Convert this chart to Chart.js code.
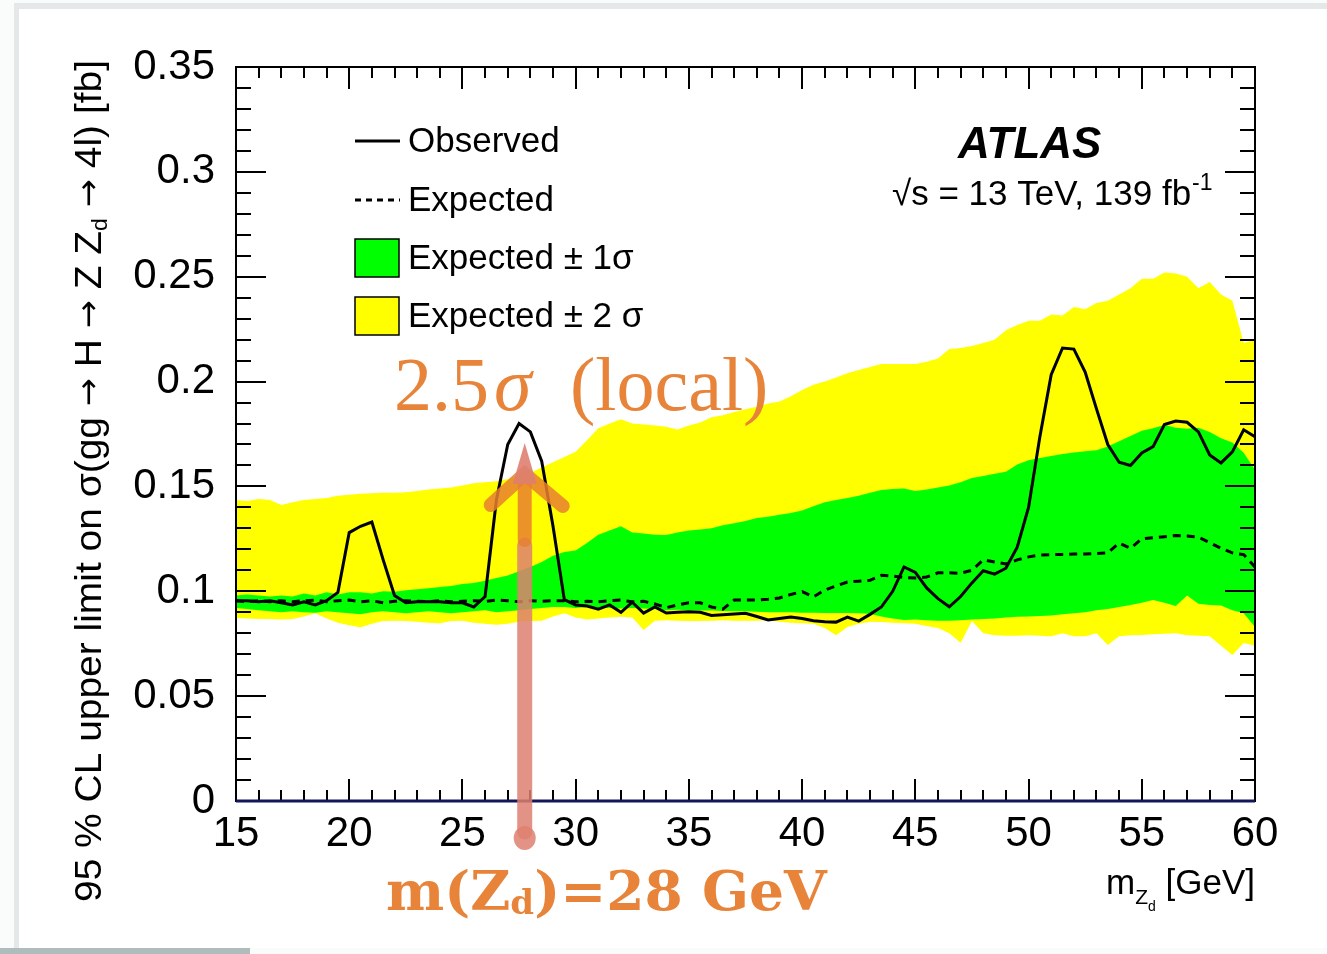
<!DOCTYPE html>
<html>
<head>
<meta charset="utf-8">
<script src="https://cdn.jsdelivr.net/npm/chart.js@4.4.0/dist/chart.umd.min.js"></script>
<style>
  html, body { margin: 0; padding: 0; background: #fff; overflow: hidden; }
  canvas { display: block; }
</style>
</head>
<body>
<canvas id="limitChart" width="1327" height="954"></canvas>
<script>
// Z_d mass points (GeV), 0.5 GeV steps
const massGeV = [];
for (let i = 0; i <= 90; i++) massGeV.push(15 + i * 0.5);

const observed = [
  0.0955, 0.0955, 0.0950, 0.0955, 0.0945, 0.0935, 0.0950, 0.0935, 0.0955, 0.0995,
  0.1280, 0.1310, 0.1330, 0.1150, 0.0980, 0.0945, 0.0950, 0.0950, 0.0950, 0.0945,
  0.0945, 0.0925, 0.0975, 0.1435, 0.1700, 0.1800, 0.1760, 0.1620, 0.1310, 0.0960,
  0.0935, 0.0930, 0.0915, 0.0935, 0.0900, 0.0948, 0.0896, 0.0925, 0.0896, 0.0900,
  0.0902, 0.0900, 0.0885, 0.0888, 0.0892, 0.0895, 0.0880, 0.0863, 0.0870, 0.0877,
  0.0870, 0.0860, 0.0855, 0.0853, 0.0877, 0.0858, 0.0890, 0.0925, 0.1000, 0.1116,
  0.1090, 0.1016, 0.0965, 0.0926, 0.0975, 0.1040, 0.1098, 0.1082, 0.1110, 0.1210,
  0.1400, 0.1737, 0.2033, 0.2160, 0.2155, 0.2045, 0.1870, 0.1700, 0.1615, 0.1600,
  0.1660, 0.1690, 0.1795, 0.1812, 0.1806, 0.1760, 0.1650, 0.1612, 0.1665, 0.1770,
  0.1737
];

const expected = [
  0.0955, 0.0950, 0.0955, 0.0950, 0.0955, 0.0950, 0.0955, 0.0958, 0.0950, 0.0955,
  0.0958, 0.0950, 0.0955, 0.0945, 0.0952, 0.0955, 0.0953, 0.0950, 0.0955, 0.0950,
  0.0952, 0.0955, 0.0952, 0.0958, 0.0955, 0.0950, 0.0955, 0.0952, 0.0955, 0.0955,
  0.0950, 0.0952, 0.0950, 0.0955, 0.0958, 0.0950, 0.0952, 0.0940, 0.0922, 0.0935,
  0.0945, 0.0945, 0.0925, 0.0915, 0.0958, 0.0958, 0.0958, 0.0962, 0.0968, 0.0985,
  0.0998, 0.0973, 0.1006, 0.1025, 0.1044, 0.1048, 0.1052, 0.1076, 0.1072, 0.1066,
  0.1063, 0.1068, 0.1088, 0.1088, 0.1086, 0.1100, 0.1150, 0.1140, 0.1130, 0.1150,
  0.1164, 0.1173, 0.1175, 0.1176, 0.1178, 0.1178, 0.1180, 0.1183, 0.1230, 0.1205,
  0.1250, 0.1255, 0.1260, 0.1266, 0.1264, 0.1258, 0.1232, 0.1205, 0.1183, 0.1175,
  0.1116
];

// expected +/- 1 sigma
const band1Hi = [
  0.0980, 0.0985, 0.0980, 0.0975, 0.0980, 0.0975, 0.0990, 0.0980, 0.0995, 0.0985,
  0.0995, 0.0995, 0.0990, 0.1000, 0.0998, 0.1005, 0.1010, 0.1015, 0.1020, 0.1025,
  0.1035, 0.1040, 0.1050, 0.1063, 0.1075, 0.1095, 0.1116, 0.1140, 0.1170, 0.1187,
  0.1195, 0.1230, 0.1270, 0.1290, 0.1310, 0.1280, 0.1275, 0.1270, 0.1268, 0.1280,
  0.1290, 0.1295, 0.1300, 0.1315, 0.1325, 0.1335, 0.1350, 0.1355, 0.1365, 0.1373,
  0.1385, 0.1405, 0.1425, 0.1435, 0.1445, 0.1455, 0.1470, 0.1483, 0.1488, 0.1490,
  0.1478, 0.1485, 0.1495, 0.1505, 0.1520, 0.1540, 0.1550, 0.1560, 0.1570, 0.1605,
  0.1625, 0.1635, 0.1645, 0.1655, 0.1662, 0.1668, 0.1672, 0.1690, 0.1715, 0.1740,
  0.1765, 0.1778, 0.1793, 0.1780, 0.1775, 0.1780, 0.1760, 0.1730, 0.1710, 0.1660,
  0.1580
];
const band1Lo = [
  0.0920, 0.0915, 0.0910, 0.0905, 0.0900, 0.0905, 0.0900, 0.0898, 0.0905, 0.0900,
  0.0895, 0.0890, 0.0900, 0.0905, 0.0900, 0.0895, 0.0900, 0.0905, 0.0900, 0.0895,
  0.0900, 0.0905, 0.0910, 0.0900, 0.0905, 0.0910, 0.0915, 0.0920, 0.0925, 0.0925,
  0.0920, 0.0925, 0.0920, 0.0920, 0.0918, 0.0920, 0.0918, 0.0915, 0.0910, 0.0912,
  0.0910, 0.0908, 0.0908, 0.0906, 0.0905, 0.0905, 0.0902, 0.0900, 0.0900, 0.0900,
  0.0898, 0.0898, 0.0897, 0.0896, 0.0896, 0.0895, 0.0893, 0.0880, 0.0870, 0.0863,
  0.0865, 0.0862, 0.0860, 0.0860, 0.0862, 0.0865, 0.0868, 0.0870, 0.0875, 0.0878,
  0.0880, 0.0882, 0.0885, 0.0890, 0.0895, 0.0900, 0.0910, 0.0915, 0.0925, 0.0935,
  0.0945, 0.0958, 0.0945, 0.0930, 0.0980, 0.0940, 0.0935, 0.0932, 0.0910, 0.0895,
  0.0830
];

// expected +/- 2 sigma
const band2Hi = [
  0.1435, 0.1430, 0.1440, 0.1435, 0.1412, 0.1425, 0.1435, 0.1440, 0.1445, 0.1455,
  0.1460, 0.1465, 0.1468, 0.1470, 0.1470, 0.1472, 0.1478, 0.1485, 0.1490, 0.1495,
  0.1505, 0.1515, 0.1520, 0.1525, 0.1535, 0.1550, 0.1565, 0.1590, 0.1615, 0.1640,
  0.1665, 0.1720, 0.1778, 0.1800, 0.1820, 0.1800, 0.1795, 0.1790, 0.1785, 0.1772,
  0.1790, 0.1805, 0.1830, 0.1840, 0.1855, 0.1868, 0.1880, 0.1895, 0.1905, 0.1930,
  0.1960, 0.1985, 0.2000, 0.2020, 0.2040, 0.2055, 0.2070, 0.2084, 0.2084, 0.2084,
  0.2084, 0.2095, 0.2110, 0.2155, 0.2160, 0.2170, 0.2184, 0.2200, 0.2245, 0.2270,
  0.2290, 0.2290, 0.2320, 0.2315, 0.2355, 0.2345, 0.2375, 0.2385, 0.2415, 0.2445,
  0.2490, 0.2490, 0.2520, 0.2515, 0.2500, 0.2445, 0.2475, 0.2415, 0.2385, 0.2184,
  0.2200
];
const band2Lo = [
  0.0873, 0.0870, 0.0868, 0.0868, 0.0865, 0.0868, 0.0880, 0.0895, 0.0870, 0.0850,
  0.0838, 0.0828, 0.0845, 0.0858, 0.0860, 0.0858, 0.0855, 0.0850, 0.0848, 0.0858,
  0.0860, 0.0850, 0.0845, 0.0840, 0.0845, 0.0855, 0.0858, 0.0860, 0.0880, 0.0895,
  0.0875, 0.0865, 0.0870, 0.0875, 0.0878, 0.0875, 0.0815, 0.0860, 0.0862, 0.0860,
  0.0858, 0.0858, 0.0860, 0.0862, 0.0860, 0.0860, 0.0860, 0.0862, 0.0855, 0.0850,
  0.0848, 0.0845, 0.0825, 0.0790, 0.0830, 0.0845, 0.0855, 0.0854, 0.0850, 0.0848,
  0.0845, 0.0835, 0.0825, 0.0800, 0.0755, 0.0858, 0.0800, 0.0790, 0.0788, 0.0788,
  0.0790, 0.0788, 0.0785, 0.0800, 0.0785, 0.0785, 0.0800, 0.0744, 0.0785, 0.0790,
  0.0792, 0.0795, 0.0798, 0.0800, 0.0790, 0.0788, 0.0785, 0.0740, 0.0696, 0.0753,
  0.0740
];

const xTickValues = [15, 20, 25, 30, 35, 40, 45, 50, 55, 60];
const yTickValues = [0, 0.05, 0.1, 0.15, 0.2, 0.25, 0.3, 0.35];
const highlightMass = 27.75;

const SANS = '"Liberation Sans", Arial, sans-serif';
const ARROWS = '"DejaVu Sans", sans-serif';
const ORANGE = '#e8843a';

function pts(ys) {
  return massGeV.map((m, i) => ({ x: m, y: ys[i] }));
}

// draws a list of [text, font, dy] pieces one after another
function drawPieces(c, x, y, pieces) {
  let cx = x;
  pieces.forEach(([t, f, dy]) => {
    c.font = f;
    c.fillText(t, cx, y + dy);
    cx += c.measureText(t).width;
  });
  return cx;
}
function piecesWidth(c, pieces) {
  let w = 0;
  pieces.forEach(([t, f]) => { c.font = f; w += c.measureText(t).width; });
  return w;
}

const slide = {
  id: 'slide',
  beforeDraw(chart) {
    const c = chart.ctx;
    c.save();
    c.fillStyle = '#fafbfb';
    c.fillRect(0, 0, chart.width, chart.height);
    c.fillStyle = '#e4e8e8';
    c.fillRect(14, 3, chart.width - 14, 6);
    c.fillRect(14, 3, 5, 945);
    c.fillStyle = '#ffffff';
    c.fillRect(19, 9, chart.width - 19, 939);
    c.fillStyle = '#aebcbc';
    c.fillRect(0, 948, 250, 6);
    c.restore();
  },
  afterDatasetsDraw(chart) {
    const { ctx: c, chartArea: a, scales: { x, y } } = chart;
    c.save();
    // ROOT style inner ticks
    c.strokeStyle = '#000';
    c.lineWidth = 2;
    c.beginPath();
    for (let m = 15; m <= 60; m++) {
      const px = Math.round(x.getPixelForValue(m));
      const len = m % 5 === 0 ? 22 : 11;
      c.moveTo(px, a.bottom); c.lineTo(px, a.bottom - len);
      c.moveTo(px, a.top); c.lineTo(px, a.top + len);
    }
    for (let k = 0; k <= 35; k++) {
      const py = Math.round(y.getPixelForValue(k / 100));
      const len = k % 5 === 0 ? 30 : 15;
      c.moveTo(a.left, py); c.lineTo(a.left + len, py);
      c.moveTo(a.right, py); c.lineTo(a.right - len, py);
    }
    c.stroke();
    c.strokeRect(a.left, a.top, a.right - a.left, a.bottom - a.top);
    c.strokeStyle = '#15155a';
    c.lineWidth = 3;
    c.beginPath();
    c.moveTo(a.left, a.bottom); c.lineTo(a.right, a.bottom);
    c.stroke();
    c.restore();
  },
  afterDraw(chart) {
    const { ctx: c, chartArea: a, scales: { x } } = chart;
    c.save();
    c.fillStyle = '#000';
    c.textBaseline = 'alphabetic';

    // legend
    const rows = [141, 200, 258, 316];
    c.strokeStyle = '#000';
    c.lineWidth = 3;
    c.beginPath(); c.moveTo(355, rows[0]); c.lineTo(400, rows[0]); c.stroke();
    c.setLineDash([6, 5]);
    c.beginPath(); c.moveTo(355, rows[1]); c.lineTo(400, rows[1]); c.stroke();
    c.setLineDash([]);
    c.lineWidth = 1.5;
    c.fillStyle = '#00ff00'; c.fillRect(355, 239, 44, 38); c.strokeRect(355, 239, 44, 38);
    c.fillStyle = '#ffff00'; c.fillRect(355, 297, 44, 38); c.strokeRect(355, 297, 44, 38);
    c.fillStyle = '#000';
    c.font = '35px ' + SANS;
    c.textBaseline = 'middle';
    c.fillText('Observed', 408, rows[0] + 1);
    c.fillText('Expected', 408, rows[1] + 1);
    c.fillText('Expected \u00b1 1\u03c3', 408, rows[2] + 1);
    c.fillText('Expected \u00b1 2 \u03c3', 408, rows[3] + 1);
    c.textBaseline = 'alphabetic';

    // experiment label
    c.font = 'italic bold 44px ' + SANS;
    c.fillText('ATLAS', 958, 158);
    const endX = drawPieces(c, 892, 205, [['\u221as = 13 TeV, 139 fb', '35px ' + SANS, 0]]);
    c.font = '23px ' + SANS;
    c.fillText('-1', endX + 1, 190);

    // x title
    const xt = [['m', '35px ' + SANS, 0], ['Z', '21px ' + SANS, 10], ['d', '14px ' + SANS, 17], [' [GeV]', '35px ' + SANS, 0]];
    drawPieces(c, a.right - piecesWidth(c, xt), 894, xt);

    // y title (rotated)
    const big = '37px ' + SANS, arr = '32px ' + ARROWS;
    const yt = [['95 % CL upper limit on \u03c3(gg ', big, 0], ['\u2192', arr, -2],
                [' H ', big, 0], ['\u2192', arr, -2], [' Z Z', big, 0],
                ['d', '22px ' + SANS, 6], [' ', big, 0], ['\u2192', arr, -2],
                [' 4l) [fb]', big, 0]];
    const w = piecesWidth(c, yt);
    c.save();
    c.translate(101, 902);
    c.rotate(-Math.PI / 2);
    c.scale(842 / w, 1);
    drawPieces(c, 0, 0, yt);
    c.restore();

    // highlight arrow
    const ax = x.getPixelForValue(highlightMass);
    c.lineCap = 'round';
    c.strokeStyle = 'rgba(222,128,112,0.85)';
    c.fillStyle = 'rgba(222,128,112,0.85)';
    c.lineWidth = 15;
    c.beginPath(); c.moveTo(ax, 832); c.lineTo(ax, 545); c.stroke();
    c.beginPath(); c.ellipse(ax, 838, 11, 12, 0, 0, Math.PI * 2); c.fill();
    c.strokeStyle = 'rgba(232,128,48,0.85)';
    c.lineWidth = 14;
    c.beginPath(); c.moveTo(ax, 540); c.lineTo(ax, 478); c.stroke();
    c.beginPath(); c.moveTo(ax - 34, 505); c.lineTo(ax, 474); c.lineTo(ax + 38, 506); c.stroke();
    c.fillStyle = 'rgba(222,128,112,0.9)';
    c.beginPath(); c.moveTo(ax - 12, 484); c.lineTo(ax, 443); c.lineTo(ax + 12, 484); c.closePath(); c.fill();

    // annotations
    c.fillStyle = ORANGE;
    c.font = '76px "Liberation Serif", serif';
    c.fillText('2.5', 394, 410);
    c.font = 'italic 76px "Liberation Serif", serif';
    c.fillText('\u03c3', 494, 410);
    c.font = '76px "Liberation Serif", serif';
    c.fillText('(local)', 570, 410);

    drawPieces(c, 386, 910, [
      ['m(Z', 'bold 55px "DejaVu Serif", serif', 0],
      ['d', 'bold 34px "DejaVu Serif", serif', 4],
      [')=28 GeV', 'bold 55px "DejaVu Serif", serif', 0]
    ]);
    c.restore();
  }
};

const lineBase = { pointRadius: 0, tension: 0, borderWidth: 0 };

new Chart(document.getElementById('limitChart'), {
  type: 'line',
  data: {
    datasets: [
      { ...lineBase, label: 'Expected \u00b1 2 \u03c3', data: pts(band2Hi), fill: '+1', backgroundColor: '#ffff00', borderColor: '#ffff00', order: 5 },
      { ...lineBase, label: '2 sigma low', data: pts(band2Lo), fill: false, borderColor: 'rgba(0,0,0,0)', order: 4 },
      { ...lineBase, label: 'Expected \u00b1 1\u03c3', data: pts(band1Hi), fill: '+1', backgroundColor: '#00ff00', borderColor: '#00ff00', order: 3 },
      { ...lineBase, label: '1 sigma low', data: pts(band1Lo), fill: false, borderColor: 'rgba(0,0,0,0)', order: 2 },
      { ...lineBase, label: 'Expected', data: pts(expected), fill: false, borderColor: '#000', borderWidth: 3, borderDash: [8, 6], order: 1 },
      { ...lineBase, label: 'Observed', data: pts(observed), fill: false, borderColor: '#000', borderWidth: 3, order: 0 }
    ]
  },
  options: {
    responsive: false,
    animation: false,
    devicePixelRatio: 1,
    layout: { padding: { top: 67, right: 72, left: 0, bottom: 0 } },
    plugins: { legend: { display: false }, tooltip: { enabled: false } },
    scales: {
      x: {
        type: 'linear',
        min: 15,
        max: 60,
        afterFit: (s) => { s.height = 153; },
        afterBuildTicks: (s) => { s.ticks = xTickValues.map((v) => ({ value: v })); },
        grid: { display: false, drawTicks: false },
        border: { display: false },
        ticks: { color: '#000', font: { size: 42, family: SANS }, padding: 8, maxRotation: 0, autoSkip: false }
      },
      y: {
        type: 'linear',
        min: 0,
        max: 0.35,
        afterFit: (s) => { s.width = 236; },
        afterBuildTicks: (s) => { s.ticks = yTickValues.map((v) => ({ value: v })); },
        grid: { display: false, drawTicks: false },
        border: { display: false },
        ticks: {
          color: '#000',
          font: { size: 42, family: SANS },
          padding: 21,
          callback: (v) => String(+v.toFixed(2))
        }
      }
    }
  },
  plugins: [slide]
});
</script>
</body>
</html>
